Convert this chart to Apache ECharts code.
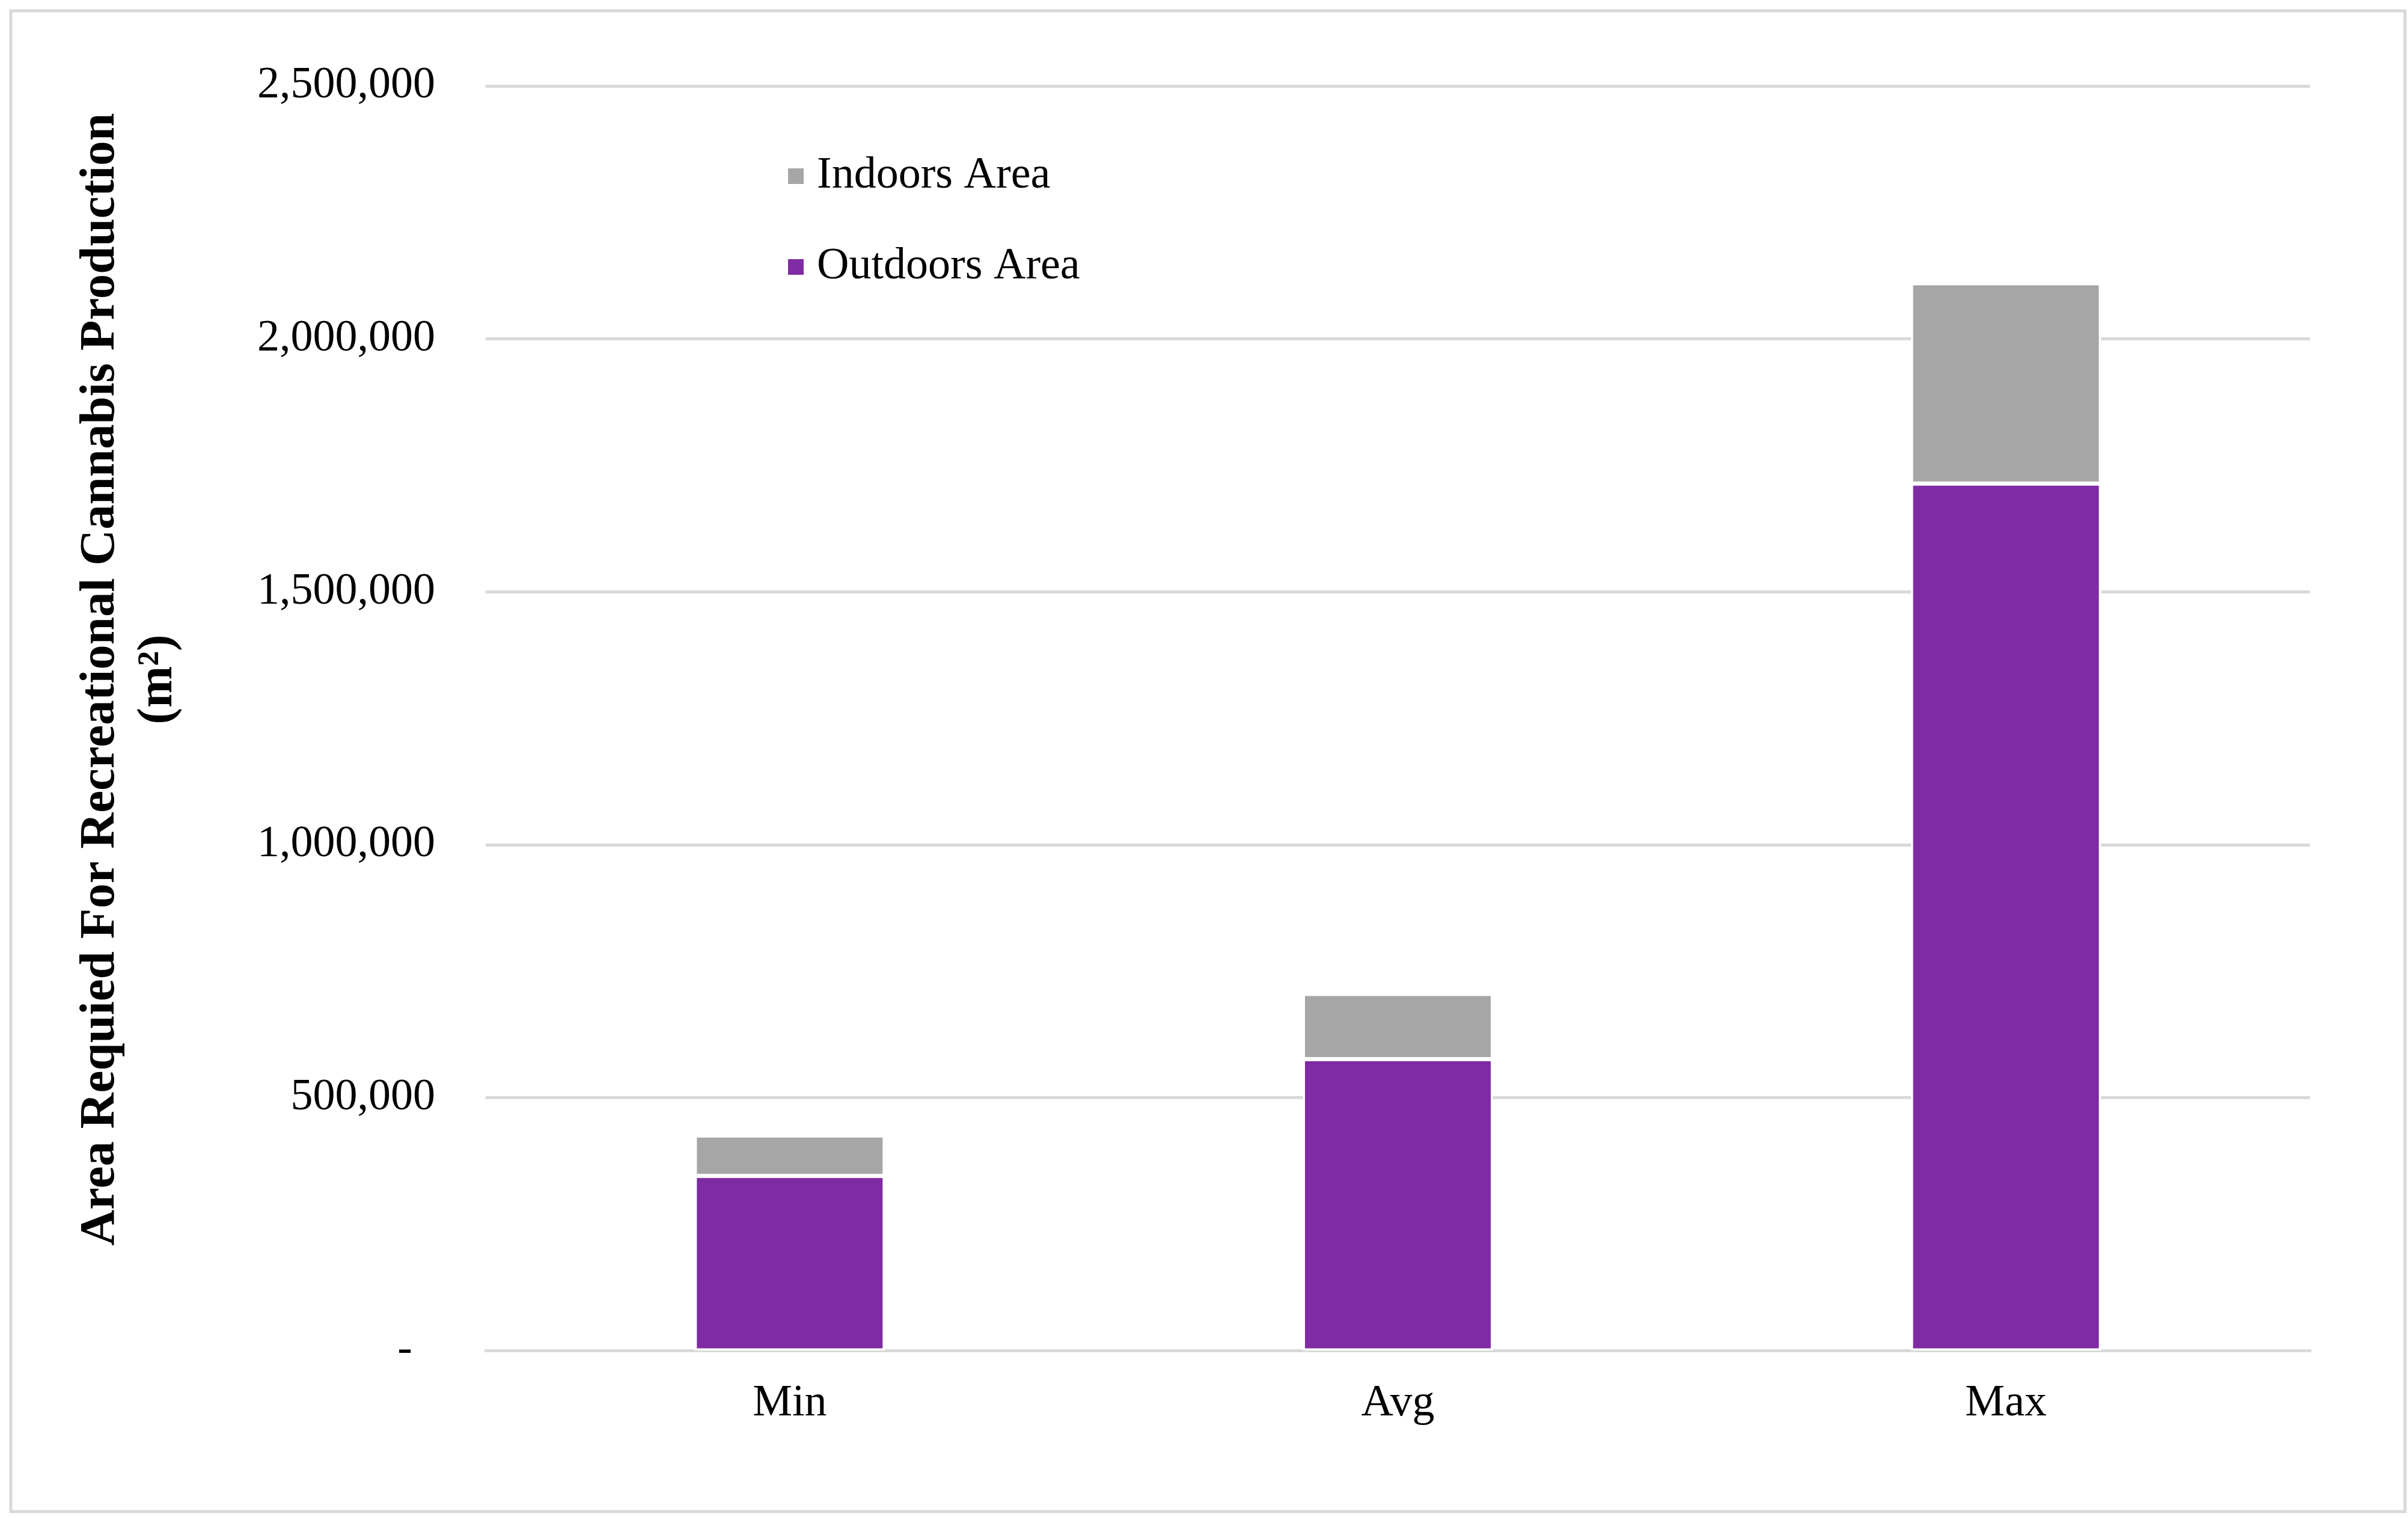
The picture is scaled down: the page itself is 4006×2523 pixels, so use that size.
<!DOCTYPE html>
<html>
<head>
<meta charset="utf-8">
<script src="https://cdn.jsdelivr.net/npm/echarts@6/dist/echarts.min.js"></script>
<style>html,body{margin:0;padding:0;background:#fff;}#c{width:4006px;height:2523px;}</style>
</head>
<body>
<div id="c"></div>
<script>
const categories = ['Min', 'Avg', 'Max'];
const outdoorsArea = [345000, 576000, 1714000];
const indoorsArea = [80000, 129000, 396000];
const yTicks = [0, 500000, 1000000, 1500000, 2000000, 2500000];
const yTitle = 'Area Requied For Recreational Cannabis Production\n(m²)';

const FONT = '"Liberation Serif", "Times New Roman", serif';
const chart = echarts.init(document.getElementById('c'), null, {renderer: 'canvas'});
chart.setOption({
  animation: false,
  backgroundColor: '#ffffff',
  textStyle: {fontFamily: FONT},
  grid: {left: 808, right: 163, top: 143, bottom: 277, containLabel: false},
  legend: {
    orient: 'vertical',
    left: 1309,
    top: 253,
    padding: 0,
    itemGap: 71,
    itemWidth: 28,
    itemHeight: 28,
    icon: 'rect',
    data: ['Indoors Area', 'Outdoors Area'],
    textStyle: {fontFamily: FONT, fontSize: 74, color: '#000', lineHeight: 80, padding: [0, 0, 0, 16]}
  },
  xAxis: {
    type: 'category',
    data: categories,
    axisLine: {show: true, lineStyle: {color: '#d9d9d9', width: 5}},
    axisTick: {show: false},
    axisLabel: {fontFamily: FONT, fontSize: 74, color: '#000', margin: 52}
  },
  yAxis: {
    type: 'value',
    min: yTicks[0],
    max: yTicks[yTicks.length - 1],
    interval: yTicks[1] - yTicks[0],
    axisLine: {show: false},
    axisTick: {show: false},
    splitLine: {show: true, lineStyle: {color: '#d9d9d9', width: 5}},
    axisLabel: {
      fontFamily: FONT, fontSize: 74, color: '#000', margin: 84,
      formatter: function (v) { return v === 0 ? '{d|-}' : v.toLocaleString('en-US'); },
      rich: {d: {fontFamily: FONT, fontSize: 74, color: '#000', padding: [0, 38, 0, 0]}}
    }
  },
  graphic: [
    {
      type: 'rect',
      silent: true,
      shape: {x: 18, y: 18, width: 3983, height: 2496},
      style: {fill: 'none', stroke: '#d9d9d9', lineWidth: 5}
    },
    {
      type: 'text',
      silent: true,
      x: 216,
      y: 1130,
      rotation: Math.PI / 2,
      style: {
        text: yTitle,
        font: 'bold 83px "Liberation Serif", "Times New Roman", serif',
        fill: '#000',
        textAlign: 'center',
        textVerticalAlign: 'middle',
        lineHeight: 96
      }
    }
  ],
  series: [
    {
      name: 'Outdoors Area',
      type: 'bar',
      stack: 'total',
      data: outdoorsArea,
      barWidth: 316,
      itemStyle: {color: '#7F2BA3', borderColor: '#ffffff', borderWidth: 3.5}
    },
    {
      name: 'Indoors Area',
      type: 'bar',
      stack: 'total',
      data: indoorsArea,
      barWidth: 316,
      itemStyle: {color: '#A6A6A6', borderColor: '#ffffff', borderWidth: 3.5}
    }
  ]
});
</script>
</body>
</html>
